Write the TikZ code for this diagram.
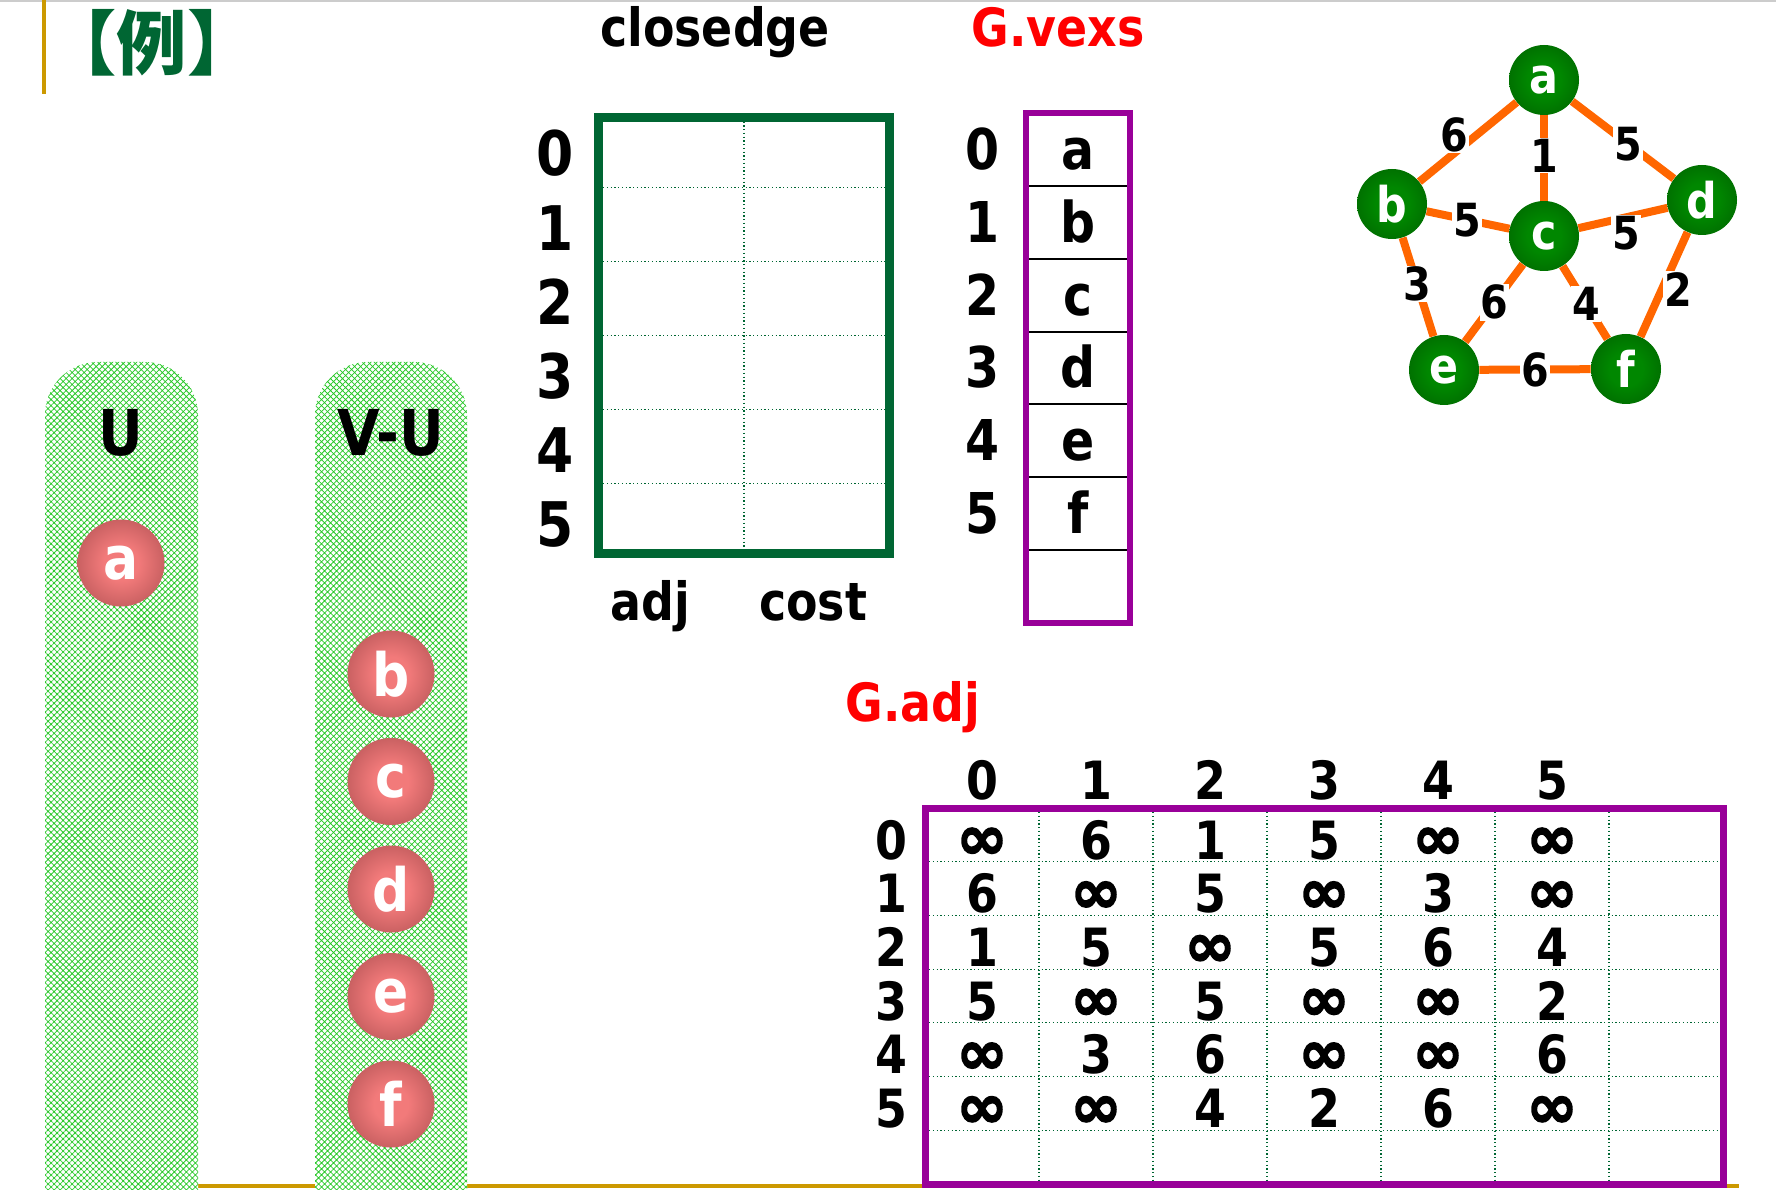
\documentclass[tikz,border=0pt]{standalone}
\usepackage{fontspec}
\setmainfont{DejaVu Sans}[FakeStretch=0.87]
\newfontfamily\cjkfont{Noto Sans CJK SC}
\newfontfamily\inffont{DejaVu Sans}[FakeBold=2.5]
\usetikzlibrary{patterns.meta}

\definecolor{deepgreen}{RGB}{0,102,51}
\definecolor{vexpurple}{RGB}{153,0,153}
\definecolor{rulegold}{RGB}{204,153,0}
\definecolor{edgeorange}{RGB}{255,102,0}
\definecolor{hatchgreen}{RGB}{40,200,40}
\definecolor{redin}{RGB}{242,122,122}
\definecolor{redout}{RGB}{135,55,58}
\definecolor{grnin}{RGB}{0,135,0}
\definecolor{grnout}{RGB}{0,72,0}

\pgfdeclareradialshading{redsphere}{\pgfpoint{0bp}{0bp}}{color(0bp)=(redin); color(10bp)=(redin); color(50bp)=(redout)}
\pgfdeclareradialshading{grnsphere}{\pgfpoint{0bp}{0bp}}{color(0bp)=(grnin); color(12bp)=(grnin); color(50bp)=(grnout)}

\newcommand{\bsz}[1]{\fontsize{#1}{#1}\selectfont\bfseries}
\newcommand{\infsym}{{\inffont\fontsize{35pt}{35pt}\selectfont ∞}}

\tikzset{
  setcol/.style  ={preaction={fill=white},pattern={Hatch[angle=45,distance=0.85mm,line width=0.15mm]},pattern color=hatchgreen,rounded corners=10.6mm},
  setlbl/.style  ={anchor=base,font=\bsz{36pt}},
  redball/.style ={circle,minimum size=17.4mm,inner sep=0pt,shading=redsphere,text=white,font=\bsz{34pt}},
  gvex/.style    ={circle,minimum size=14mm,inner sep=0pt,shading=grnsphere,text=white,font=\bsz{28pt}},
  gedge/.style   ={edgeorange,line width=1.6mm},
  wt/.style      ={fill=white,text=black,inner sep=0.6pt,font=\bsz{26pt}},
  ttl/.style     ={anchor=base,font=\bsz{30pt}},
  idx/.style     ={anchor=base,font=\bsz{35pt}},
  vcell/.style   ={anchor=base,font=\bsz{32pt}},
  cell/.style    ={anchor=base,inner sep=1pt,font=\bsz{30pt}},
  dotgrid/.style ={deepgreen,line width=0.25mm,dash pattern=on 0.25mm off 0.5mm},
}

\begin{document}
\begin{tikzpicture}[x=0.2mm,y=-0.2mm]
  \useasboundingbox (0,0) rectangle (1776,1190);
  \clip (0,0) rectangle (1776,1190);
  % page rules
  \draw[gray!40,line width=0.3mm] (0,1) -- (1776,1);
  \draw[rulegold,line width=0.8mm] (44,0) -- (44,94);
  \draw[rulegold,line width=0.8mm] (120,1186) -- (1739,1186);
  \node[text=deepgreen,font=\cjkfont\bfseries\fontsize{40pt}{40pt}\selectfont] (li) at (152,43) {【例】};

  % U and V-U
  \path[setcol] (45,1260) -- (45,362) -- (198,362) -- (198,1260);
  \path[setcol] (315,1260) -- (315,362) -- (467,362) -- (467,1260);
  \node[setlbl] (lblU) at (121,456) {U};
  \node[setlbl] (lblVU) at (391,456) {V-U};
  \node[redball] (ua) at (121,563) {a};
  \foreach \v [count=\i from 0] in {b,c,d,e,f}
    \node[redball] (vu\v) at (391,{674+107.5*\i}) {\v};

  % closedge
  \node[ttl] (ttlclose) at (715,47) {closedge};
  \draw[dotgrid] (744,118) -- (744,553);
  \foreach \i in {1,...,5} \draw[dotgrid] (603,{113+74.17*\i}) -- (885,{113+74.17*\i});
  \draw[deepgreen,line width=1.8mm] (598.5,117.5) rectangle (889.5,553.5);
  \foreach \i in {0,...,5} \node[idx] (ce\i) at (555,{176+74.17*\i}) {\i};
  \node[ttl] (lbladj) at (650,621) {adj};
  \node[ttl] (lblcost) at (813,621) {cost};

  % G.vexs
  \node[ttl,text=red] (ttlvexs) at (1058,47) {G.vexs};
  \foreach \i in {1,...,6} \draw[line width=0.4mm] (1026,{113+72.86*\i}) -- (1130,{113+72.86*\i});
  \draw[vexpurple,line width=1.2mm] (1026,113) rectangle (1130,623);
  \foreach \v [count=\i from 0] in {a,b,c,d,e,f}{
    \node[vcell] (ix\i) at (983,{169.4+72.86*\i}) {\i};
    \node[vcell] (vx\i) at (1078,{169.4+72.86*\i}) {\v};
  }

  % G.adj
  \node[ttl,text=red] (ttladj) at (913,721) {G.adj};
  \foreach \i in {1,...,6} \draw[dotgrid] (929,{808+53.71*\i}) -- (1719,{808+53.71*\i});
  \foreach \i in {1,...,6} \draw[dotgrid] ({925+114*\i},812) -- ({925+114*\i},1180);
  \draw[vexpurple,line width=1.4mm] (925,808) rectangle (1723,1184);
  \foreach \c in {0,...,5} \node[cell] (mc\c) at ({982+114*\c},799) {\c};
  \foreach \r in {0,...,5} \node[cell] (mr\r) at (891,{859+53.71*\r}) {\r};
  \foreach \row [count=\r from 0] in {{\infsym,6,1,5,\infsym,\infsym},{6,\infsym,5,\infsym,3,\infsym},{1,5,\infsym,5,6,4},{5,\infsym,5,\infsym,\infsym,2},{\infsym,3,6,\infsym,\infsym,6},{\infsym,\infsym,4,2,6,\infsym}}
    \foreach \v [count=\c from 0] in \row
      \node[cell] (m\r\c) at ({982+114*\c},{859+53.71*\r}) {\v};

  % graph
  \node[gvex] (a) at (1544,80) {a};
  \node[gvex] (b) at (1392,204) {b};
  \node[gvex] (c) at (1544,236) {c};
  \node[gvex] (d) at (1702,200) {d};
  \node[gvex] (e) at (1444,370) {e};
  \node[gvex] (f) at (1626,369) {f};
  \draw[gedge] (a) -- node[wt,pos=0.55,xshift=-1.8mm,yshift=2.2mm] (wab) {6} (b);
  \draw[gedge] (a) -- node[wt,pos=0.47] (wac) {1} (c);
  \draw[gedge] (a) -- node[wt,pos=0.55] (wad) {5} (d);
  \draw[gedge] (b) -- node[wt,pos=0.49] (wbc) {5} (c);
  \draw[gedge] (c) -- node[wt,pos=0.49,xshift=0.8mm,yshift=-3mm] (wcd) {5} (d);
  \draw[gedge] (b) -- node[wt,pos=0.47] (wbe) {3} (e);
  \draw[gedge] (c) -- node[wt,pos=0.49] (wce) {6} (e);
  \draw[gedge] (c) -- node[wt,pos=0.52] (wcf) {4} (f);
  \draw[gedge] (d) -- node[wt,pos=0.49,xshift=2.7mm,yshift=-1.2mm] (wdf) {2} (f);
  \draw[gedge] (e) -- node[wt,pos=0.5] (wef) {6} (f);
\end{tikzpicture}
\end{document}
